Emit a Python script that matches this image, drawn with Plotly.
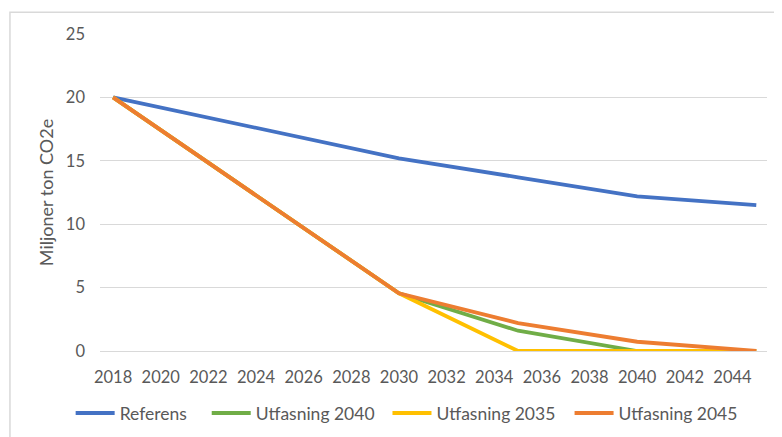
import plotly.graph_objects as go

years = [2018, 2030, 2035, 2040, 2045]
referens = [20.0, 15.2, 13.7, 12.2, 11.5]
utfasning_2040 = [20.0, 4.55, 1.6, 0.0, 0.0]
utfasning_2035 = [20.0, 4.55, 0.0, 0.0, 0.0]
utfasning_2045 = [20.0, 4.55, 2.2, 0.73, 0.0]

series_names = ["Referens", "Utfasning 2040", "Utfasning 2035", "Utfasning 2045"]
series_values = [referens, utfasning_2040, utfasning_2035, utfasning_2045]
series_colors = ["#4472C4", "#70AD47", "#FFC000", "#ED7D31"]

x_ticks = list(range(2018, 2045, 2))
y_ticks = [0, 5, 10, 15, 20, 25]

# legend entry left positions (paper fraction of plot width)
legend_x = [-0.044, 0.160, 0.431, 0.704]
legend_ids = ["legend", "legend2", "legend3", "legend4"]

fig = go.Figure()
for name, vals, col, lid in zip(series_names, series_values, series_colors, legend_ids):
    fig.add_trace(go.Scatter(
        x=years, y=vals, name=name, mode="lines",
        line=dict(color=col, width=3.8), legend=lid,
    ))

font_fam = "Lato, Open Sans, sans-serif"
legend_common = dict(
    orientation="h", xanchor="left", y=-0.196, yanchor="middle",
    font=dict(size=17.5, color="#595959"), itemwidth=39,
    bgcolor="rgba(0,0,0,0)",
)
layout_legends = {}
for lid, lx in zip(legend_ids, legend_x):
    layout_legends[lid] = dict(legend_common, x=lx)

fig.update_layout(
    width=782, height=437,
    margin=dict(l=92, r=23, t=26, b=94),
    paper_bgcolor="white", plot_bgcolor="white",
    font=dict(family=font_fam, size=16, color="#595959"),
    showlegend=True,
    xaxis=dict(
        range=[2017.45, 2045.45], tickmode="array", tickvals=x_ticks,
        showgrid=False, zeroline=False, showline=False, ticks="",
        ticklabelstandoff=14,
        tickfont=dict(size=16.5, color="#595959"),
    ),
    yaxis=dict(
        range=[0, 25], tickmode="array", tickvals=y_ticks,
        showgrid=True, gridcolor="#D9D9D9", gridwidth=1,
        zeroline=True, zerolinecolor="#D9D9D9", zerolinewidth=1,
        showline=False, ticks="", ticklabelstandoff=14,
        tickfont=dict(size=16.5, color="#595959"),
        title=dict(text="Miljoner ton CO2e", standoff=7,
                   font=dict(size=18, color="#595959")),
    ),
    shapes=[dict(
        type="rect", xref="paper", yref="paper",
        x0=-0.135, x1=1.2, y0=-0.6, y1=1.069,
        line=dict(color="#D9D9D9", width=1.5), fillcolor="rgba(0,0,0,0)",
        layer="below",
    )],
    **layout_legends,
)

fig.write_html("out.html")
